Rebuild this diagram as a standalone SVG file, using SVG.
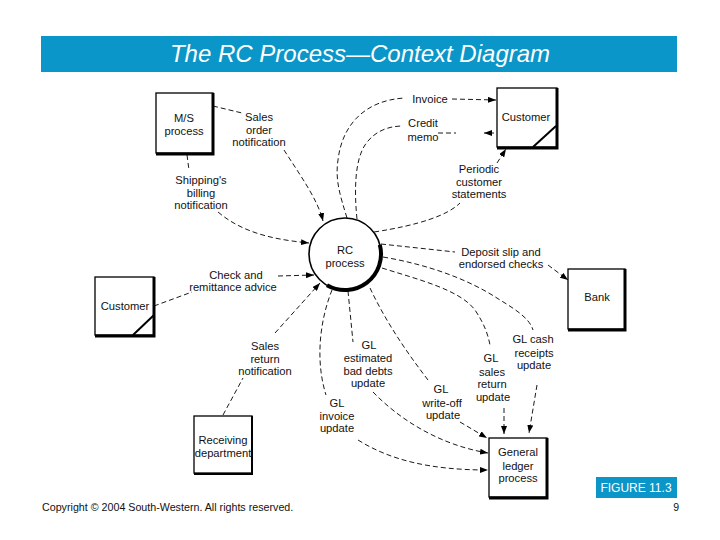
<svg xmlns="http://www.w3.org/2000/svg" width="720" height="540" viewBox="0 0 720 540">
<defs>
<marker id="arr" markerUnits="userSpaceOnUse" markerWidth="8" markerHeight="6" refX="8" refY="3" orient="auto">
<path d="M0,0 L8,3 L0,6 z" fill="#000"/>
</marker>
<style>
.lbl{font-family:"Liberation Sans",Arial,sans-serif;font-size:11.2px;fill:#111;text-anchor:middle}
.box{fill:#fff;stroke:#000;stroke-width:1.3}
.sh{fill:none;stroke:#000;stroke-width:3}
.dl{fill:none;stroke:#000;stroke-width:0.9;stroke-dasharray:5,3}
.da{fill:none;stroke:#000;stroke-width:0.9;stroke-dasharray:5,3;marker-end:url(#arr)}
</style>
</defs>
<rect width="720" height="540" fill="#fff"/>
<g id="title">
<rect x="41" y="36" width="636" height="36" fill="#0A96C8"/>
<text x="360" y="62" font-family="'Liberation Sans',Arial,sans-serif" font-size="24" font-style="italic" fill="#fff" text-anchor="middle">The RC Process—Context Diagram</text>
</g>
<g id="connectors">
<path class="dl" d="M213,106 L242,113"/>
<path class="da" d="M284,150 C300,175 318,200 323,221"/>
<path class="dl" d="M187,155 L189,170"/>
<path class="da" d="M218,212 C245,235 280,240 309,243"/>
<path class="dl" d="M154,306 L192,292"/>
<path class="da" d="M278,276 L314,275"/>
<path class="dl" d="M223,415 L243,378"/>
<path class="da" d="M275,333 L320,283"/>
<path class="dl" d="M347,218 C340,195 335,180 338,160 C342,125 365,100 405,98"/>
<path class="da" d="M452,99 L496,100"/>
<path class="dl" d="M357,219 C354,190 355,160 365,145 C375,130 390,126 403,126"/>
<path class="dl" d="M438,133 L456,133"/>
<path class="da" d="M494,133 L484,133"/>
<path class="dl" d="M374,232 C420,225 448,215 460,203"/>
<path class="da" d="M497,163 L506,149"/>
<path class="dl" d="M381,244 L455,252"/>
<path class="da" d="M548,265 L568,280"/>
<path class="dl" d="M383,257 C430,265 470,280 500,300 C520,312 530,320 533,330"/>
<path class="da" d="M537,385 L529,433"/>
<path class="dl" d="M382,268 C420,280 460,290 475,310 C485,325 488,335 490,345"/>
<path class="da" d="M504,408 L504,434"/>
<path class="dl" d="M370,288 C385,320 405,350 428,380"/>
<path class="da" d="M460,422 L487,438"/>
<path class="dl" d="M348,291 L353,342"/>
<path class="da" d="M373,392 C400,420 440,445 488,453"/>
<path class="dl" d="M332,290 C320,320 315,360 326,395"/>
<path class="da" d="M358,440 C390,460 430,470 488,470"/>
</g>
<g id="labels">
<text class="lbl" x="259" y="121">Sales</text>
<text class="lbl" x="259" y="133.5">order</text>
<text class="lbl" x="259" y="146">notification</text>
<text class="lbl" x="201" y="184">Shipping's</text>
<text class="lbl" x="201" y="196.5">billing</text>
<text class="lbl" x="201" y="209">notification</text>
<text class="lbl" x="430" y="103">Invoice</text>
<text class="lbl" x="423" y="127">Credit</text>
<text class="lbl" x="423" y="141">memo</text>
<text class="lbl" x="479" y="173">Periodic</text>
<text class="lbl" x="479" y="185.5">customer</text>
<text class="lbl" x="479" y="198">statements</text>
<text class="lbl" x="501" y="256">Deposit slip and</text>
<text class="lbl" x="501" y="268">endorsed checks</text>
<text class="lbl" x="236" y="279">Check and</text>
<text class="lbl" x="233" y="291">remittance advice</text>
<text class="lbl" x="265" y="350">Sales</text>
<text class="lbl" x="265" y="363">return</text>
<text class="lbl" x="265" y="375">notification</text>
<text class="lbl" x="369" y="349">GL</text>
<text class="lbl" x="368" y="362">estimated</text>
<text class="lbl" x="368" y="375">bad debts</text>
<text class="lbl" x="368" y="387">update</text>
<text class="lbl" x="337" y="407">GL</text>
<text class="lbl" x="337" y="420">invoice</text>
<text class="lbl" x="337" y="432">update</text>
<text class="lbl" x="441" y="393">GL</text>
<text class="lbl" x="442" y="407">write-off</text>
<text class="lbl" x="443" y="419">update</text>
<text class="lbl" x="491" y="362">GL</text>
<text class="lbl" x="492" y="376">sales</text>
<text class="lbl" x="492" y="388">return</text>
<text class="lbl" x="493" y="401">update</text>
<text class="lbl" x="533" y="343">GL cash</text>
<text class="lbl" x="534" y="357">receipts</text>
<text class="lbl" x="534" y="369">update</text>
</g>
<g id="rc-process">
<circle cx="345" cy="254" r="36" fill="#fff" stroke="#000" stroke-width="1.6"/>
<path d="M379.8,244.7 A36,36 0 0 1 327,285.2" fill="none" stroke="#000" stroke-width="4"/>
<text class="lbl" x="345" y="254" font-size="11.5">RC</text>
<text class="lbl" x="345" y="267" font-size="11.5">process</text>
</g>
<g id="ms-process">
<rect class="box" x="156" y="93" width="57" height="60"/>
<path class="sh" d="M213,93 L213,154 L156,154"/>
<text class="lbl" x="184" y="122">M/S</text>
<text class="lbl" x="184" y="135">process</text>
</g>
<g id="customer-top">
<rect class="box" x="497" y="88" width="60" height="59"/>
<path class="sh" d="M557,88 L557,148 L497,148"/>
<path d="M533,147 L556,126" stroke="#000" stroke-width="2" fill="none"/>
<text class="lbl" x="526" y="121">Customer</text>
</g>
<g id="customer-left">
<rect class="box" x="95" y="277" width="59" height="58"/>
<path class="sh" d="M154,277 L154,336 L95,336"/>
<path d="M133,335 L154,315" stroke="#000" stroke-width="2" fill="none"/>
<text class="lbl" x="125" y="310">Customer</text>
</g>
<g id="bank">
<rect class="box" x="568" y="269" width="57" height="60"/>
<path class="sh" d="M625,269 L625,330 L568,330"/>
<text class="lbl" x="597" y="301">Bank</text>
</g>
<g id="receiving">
<rect class="box" x="194" y="416" width="58" height="57"/>
<path d="M252,416 L252,474 L194,474" fill="none" stroke="#000" stroke-width="2"/>
<text class="lbl" x="223" y="444" font-size="10.5">Receiving</text>
<text class="lbl" x="223" y="457" font-size="10.5">department</text>
</g>
<g id="general-ledger">
<rect class="box" x="489" y="438" width="58" height="59"/>
<path class="sh" d="M547,438 L547,498 L489,498"/>
<text class="lbl" x="518" y="456">General</text>
<text class="lbl" x="518" y="470">ledger</text>
<text class="lbl" x="518" y="482">process</text>
</g>
<g id="footer">
<rect x="596" y="477" width="81" height="21" fill="#0A96C8"/>
<text x="636" y="492" font-family="'Liberation Sans',Arial,sans-serif" font-size="12" fill="#fff" text-anchor="middle">FIGURE 11.3</text>
<text x="42" y="511" font-family="'Liberation Sans',Arial,sans-serif" font-size="10.7" fill="#111">Copyright © 2004 South-Western. All rights reserved.</text>
<text x="679" y="511" font-family="'Liberation Sans',Arial,sans-serif" font-size="10.5" fill="#111" text-anchor="end">9</text>
</g>
</svg>
